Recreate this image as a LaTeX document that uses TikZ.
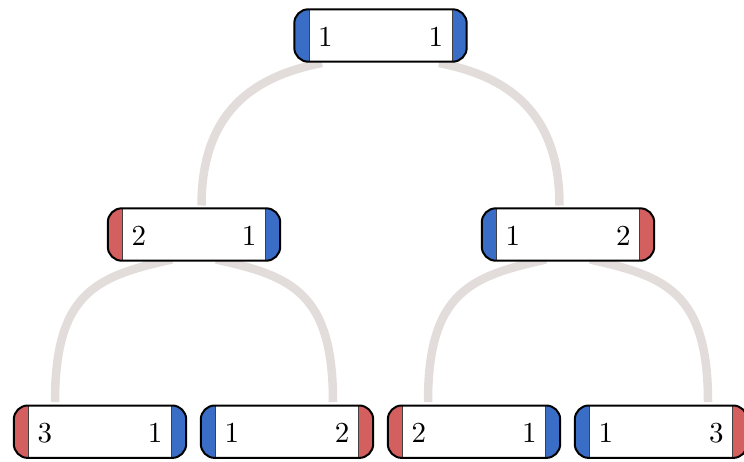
\documentclass[tikz,border=0pt]{standalone}
\usepackage{graphicx}
\definecolor{capblue}{HTML}{3A6EC6}
\definecolor{capred}{HTML}{D45F5F}
\definecolor{linkgray}{HTML}{E2DDDB}
\tikzset{
  pairnode/.style 2 args={rectangle, rounded corners=14pt, draw=black, line width=2pt,
    fill=white, minimum width=172.4pt, minimum height=52.4pt, inner sep=0pt,
    text height=21pt, text depth=0pt,
    path picture={
      \fill[#1, sharp corners] (path picture bounding box.south west) rectangle ([xshift=14.7pt]path picture bounding box.north west);
      \fill[#2, sharp corners] ([xshift=-14.7pt]path picture bounding box.south east) rectangle (path picture bounding box.north east);
      \draw[black!75, line width=0.8pt, sharp corners] ([xshift=14.7pt]path picture bounding box.south west) -- ([xshift=14.7pt]path picture bounding box.north west);
      \draw[black!75, line width=0.8pt, sharp corners] ([xshift=-14.7pt]path picture bounding box.south east) -- ([xshift=-14.7pt]path picture bounding box.north east);
    }},
  link/.style={draw=linkgray, line width=8.5pt}
}
\newcommand{\pairtext}[2]{\scalebox{2.9}{\makebox[43.1pt]{#1\hfill#2}}}
\begin{document}
\begin{tikzpicture}[x=1pt, y=-1pt]
\useasboundingbox (0,0) rectangle (744,461);
% node positions
\coordinate (proot) at (380.5,35.5);
\coordinate (pm1) at (194,234.5);
\coordinate (pm2) at (568,234.5);
% connectors (behind nodes)
\coordinate (rA) at ([shift={(-179,170)}]proot);
\coordinate (rE) at ([shift={(-58.5,27.5)}]proot);
\coordinate (rF) at ([shift={(58.5,27.5)}]proot);
\coordinate (rB) at ([shift={(179,170)}]proot);
\draw[link] (rA) .. controls ([shift={(0,-95)}]rA) and ([shift={(-67,13)}]rE) .. (rE);
\draw[link] (rB) .. controls ([shift={(0,-95)}]rB) and ([shift={(67,13)}]rF) .. (rF);
\coordinate (lA) at ([shift={(-139,167.5)}]pm1);
\coordinate (lE) at ([shift={(-22,25)}]pm1);
\coordinate (lF) at ([shift={(22,25)}]pm1);
\coordinate (lB) at ([shift={(139,167.5)}]pm1);
\draw[link] (lA) .. controls ([shift={(0,-110)}]lA) and ([shift={(-75,16.5)}]lE) .. (lE);
\draw[link] (lB) .. controls ([shift={(0,-110)}]lB) and ([shift={(75,16.5)}]lF) .. (lF);
\coordinate (kA) at ([shift={(-140,167.5)}]pm2);
\coordinate (kE) at ([shift={(-22,25)}]pm2);
\coordinate (kF) at ([shift={(22,25)}]pm2);
\coordinate (kB) at ([shift={(140,167.5)}]pm2);
\draw[link] (kA) .. controls ([shift={(0,-110)}]kA) and ([shift={(-75,16.5)}]kE) .. (kE);
\draw[link] (kB) .. controls ([shift={(0,-110)}]kB) and ([shift={(75,16.5)}]kF) .. (kF);
% nodes
\node[pairnode={capblue}{capblue}] (root) at (proot) {\pairtext{1}{1}};
\node[pairnode={capred}{capblue}] (m1) at (pm1) {\pairtext{2}{1}};
\node[pairnode={capblue}{capred}] (m2) at (pm2) {\pairtext{1}{2}};
\node[pairnode={capred}{capblue}] (b1) at (100,431.7) {\pairtext{3}{1}};
\node[pairnode={capblue}{capred}] (b2) at (287,431.7) {\pairtext{1}{2}};
\node[pairnode={capred}{capblue}] (b3) at (474,431.7) {\pairtext{2}{1}};
\node[pairnode={capblue}{capred}] (b4) at (661,431.7) {\pairtext{1}{3}};
\end{tikzpicture}
\end{document}
